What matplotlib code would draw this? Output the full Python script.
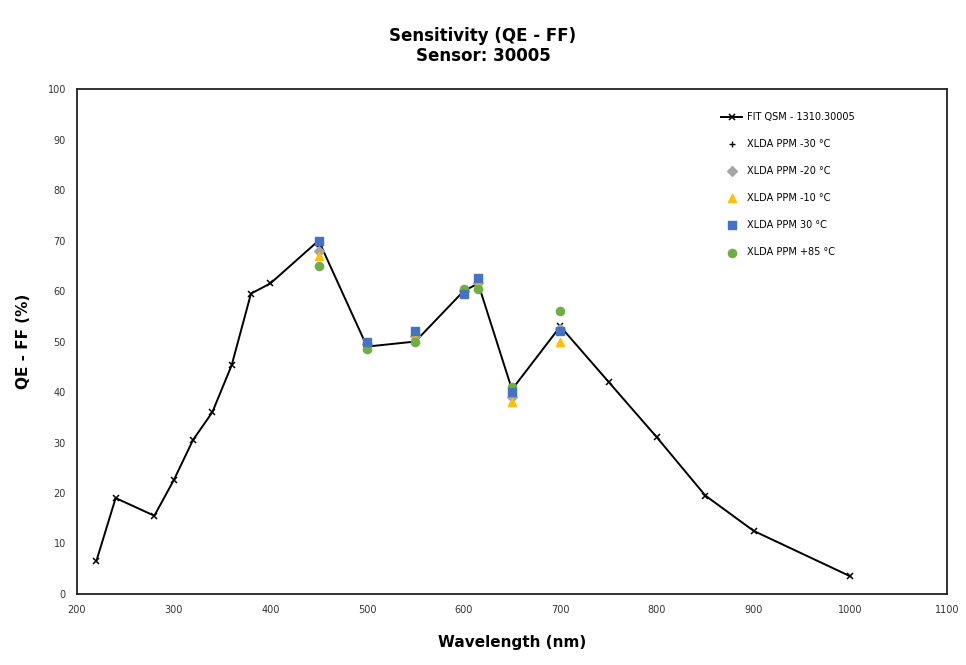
import numpy as np
import matplotlib.pyplot as plt

# fitted curve
fit_wl = [220, 240, 280, 300, 320, 340, 360, 380, 400, 450, 500, 550, 600, 615, 650, 700, 750, 800, 850, 900, 1000]
fit_qe = [6.5, 19, 15.5, 22.5, 30.5, 36, 45.3, 59.5, 61.5, 70, 49, 50, 60, 61.5, 40.5, 53, 42, 31, 19.5, 12.5, 3.5]

# measured points
meas_wl = [450, 500, 550, 600, 615, 650, 700]
qe_m30 = [69, 49.5, 51, 60, 61.5, 39.5, 52.5]
qe_m20 = [68, 49.5, 51, 60, 61.5, 39, 52.5]
qe_m10 = [67, 49, 50.5, 60, 61, 38, 50]
qe_p30 = [70, 50, 52, 59.5, 62.5, 40, 52]
qe_p85 = [65, 48.5, 50, 60.5, 60.5, 41, 56]

labels = ['FIT QSM - 1310.30005', 'XLDA PPM -30 °C', 'XLDA PPM -20 °C',
          'XLDA PPM -10 °C', 'XLDA PPM 30 °C', 'XLDA PPM +85 °C']

fig = plt.figure(figsize=(9.66, 6.65), dpi=100)
ax = fig.add_axes([0.0797, 0.1068, 0.9006, 0.7592])

ax.plot(fit_wl, fit_qe, color='black', lw=1.4, marker='x', ms=5, mew=1.1, label=labels[0], zorder=2)
ax.scatter(meas_wl, qe_m30, marker='+', s=25, color='black', lw=1, label=labels[1], zorder=3)
ax.scatter(meas_wl, qe_m20, marker='D', s=25, color='#A5A5A5', label=labels[2], zorder=3)
ax.scatter(meas_wl, qe_m10, marker='^', s=35, color='#FFC000', label=labels[3], zorder=3)
ax.scatter(meas_wl, qe_p30, marker='s', s=40, color='#4472C4', label=labels[4], zorder=4)
ax.scatter(meas_wl, qe_p85, marker='o', s=35, color='#70AD47', label=labels[5], zorder=3)

ax.set_xlim(200, 1100)
ax.set_ylim(0, 100)
ax.set_xticks(np.arange(200, 1101, 100))
ax.set_yticks(np.arange(0, 101, 10))
ax.tick_params(length=0, labelsize=7, colors='#333333', pad=8)
for s in ax.spines.values():
    s.set_linewidth(1.3)
    s.set_color('#222222')

ax.set_xlabel('Wavelength (nm)', fontsize=11, fontweight='bold', labelpad=14)
ax.set_ylabel('QE - FF (%)', fontsize=11, fontweight='bold', labelpad=12)
fig.suptitle('Sensitivity (QE - FF)\nSensor: 30005', fontsize=12, fontweight='bold', y=0.96)

ax.legend(loc='upper left', bbox_to_anchor=(0.73, 0.972), frameon=False, fontsize=7,
          labelspacing=1.75, handlelength=2.2, handletextpad=0.5)

fig.savefig('out.png', dpi=100)
